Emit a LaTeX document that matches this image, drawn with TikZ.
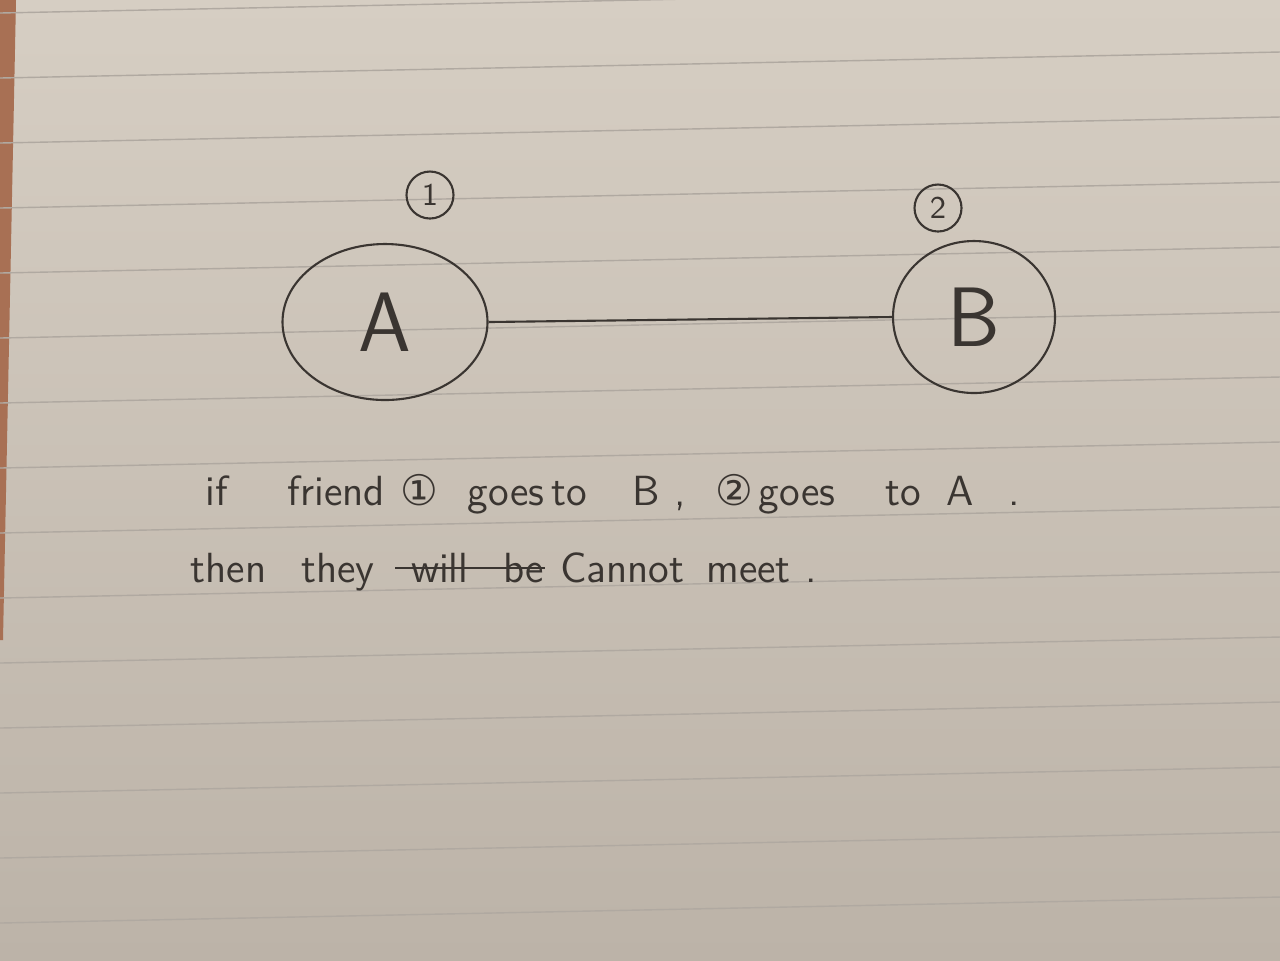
\documentclass[tikz,border=0pt]{standalone}
\usepackage{fontspec}
\newfontfamily\symbfont{DejaVu Sans}
\usetikzlibrary{shapes.geometric}

\definecolor{papier}{RGB}{214,206,195}
\definecolor{papierfonce}{RGB}{188,179,168}
\definecolor{ligne}{RGB}{176,169,161}
\definecolor{encre}{RGB}{58,53,49}
\definecolor{table}{RGB}{168,112,84}

\begin{document}
\begin{tikzpicture}[
  encre/.style={draw=encre, line width=0.6pt},
  sommet/.style={ellipse, encre, inner sep=0pt, text=encre, font=\sffamily\fontsize{24}{24}\selectfont},
  numero/.style={circle, encre, inner sep=0pt, minimum size=0.47cm, text=encre, font=\sffamily\small},
  phrase/.style={anchor=base west, text=encre, inner sep=0pt, font=\sffamily\fontsize{12}{12}\selectfont}]
% le papier
\useasboundingbox (0,0) rectangle (12.8,-9.6);
\shade[top color=papier, bottom color=papierfonce] (0,0) rectangle (12.8,-9.6);
\fill[table] (0,0)--(0.16,0)--(0.03,-6.4)--(0,-6.4)--cycle;
\foreach \y in {0.13,0.78,1.43,2.08,2.73,3.38,4.03,4.68,5.33,5.98,6.63,7.28,7.93,8.58,9.23} {
  \draw[ligne, line width=0.4pt] (0,-\y)--(12.8,-\y+0.26);
}

% les sommets
\node[sommet, minimum width=2.05cm, minimum height=1.56cm] (A) at (3.85,-3.22) {A};
\node[sommet, minimum width=1.62cm, minimum height=1.52cm] (B) at (9.74,-3.17) {B};
\node[numero] (n1) at (4.30,-1.95) {1};
\node[numero] (n2) at (9.38,-2.08) {2};
\draw[encre] (A.east)--(B.west);

% le texte
\node[phrase] (l1) at (2.05,-5.05) {if\hspace{0.6cm}friend\hspace{0.15cm}{\symbfont ①}\hspace{0.3cm}goes\hspace{0.07cm}to\hspace{0.45cm}B\hspace{0.15cm},\hspace{0.3cm}{\symbfont ②}\hspace{0.05cm}goes\hspace{0.5cm}to\hspace{0.25cm}A\hspace{0.35cm}.};
\node[phrase] (l2) at (1.90,-5.82) {then\hspace{0.35cm}they};
\node[phrase] (barre) at ([xshift=0.35cm]l2.base east) {will\hspace{0.35cm}be};
\node[phrase] (l3) at ([xshift=0.15cm]barre.base east) {Cannot\hspace{0.22cm}meet\hspace{0.15cm}.};
\draw[encre] ([xshift=-0.15cm]barre.west)--(barre.east);
\end{tikzpicture}
\end{document}
